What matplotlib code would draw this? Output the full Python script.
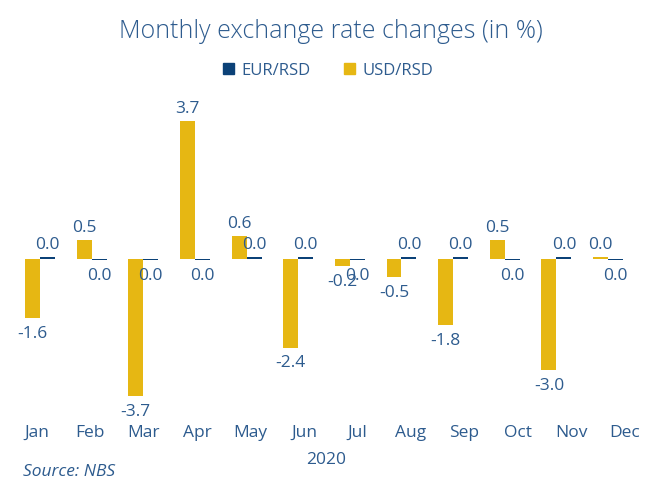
import numpy as np
import matplotlib.pyplot as plt
from matplotlib.patches import Patch

# ── Data ─────────────────────────────────────────────────────
months = ["Jan", "Feb", "Mar", "Apr", "May", "Jun",
          "Jul", "Aug", "Sep", "Oct", "Nov", "Dec"]
usd_rsd = [-1.6, 0.5, -3.7, 3.7, 0.6, -2.4, -0.2, -0.5, -1.8, 0.5, -3.0, 0.03]
eur_rsd = [0.04, -0.04, -0.04, -0.04, 0.04, 0.04, -0.04, 0.04, 0.04, -0.04, 0.04, -0.04]

NAVY = "#0B4177"
GOLD = "#E6B713"
TXT = "#2D5B8E"

plt.rcParams["font.family"] = ["Open Sans", "DejaVu Sans"]

fig = plt.figure(figsize=(6.46, 4.8), dpi=100)
ax = fig.add_axes([0.035, 0.135, 0.955, 0.655])

x = np.arange(len(months))
w = 0.29
b_usd = ax.bar(x - w / 2, usd_rsd, w, color=GOLD, label="USD/RSD")
b_eur = ax.bar(x + w / 2, eur_rsd, w, color=NAVY, label="EUR/RSD")


def fmt(v):
    return f"{round(v, 1) + 0.0:.1f}"


for bars, vals in [(b_usd, usd_rsd), (b_eur, eur_rsd)]:
    for r, v in zip(bars, vals):
        cx = r.get_x() + r.get_width() / 2
        if v >= 0:
            ax.annotate(fmt(v), (cx, v), xytext=(0, 3), textcoords="offset points",
                        ha="center", va="bottom", fontsize=12.5, color=TXT)
        else:
            ax.annotate(fmt(v), (cx, v), xytext=(0, -5.5), textcoords="offset points",
                        ha="center", va="top", fontsize=12.5, color=TXT)

ax.set_ylim(-4.22, 4.25)
ax.set_xlim(-0.337, 11.61)
ax.set_yticks([])
# category labels sit on a slightly wider pitch than the bar groups
ax.set_xticks(x * 1.035 - 0.06)
ax.set_xticklabels(months, fontsize=12.5, color=TXT)
ax.tick_params(axis="x", length=0, pad=7)
for s in ax.spines.values():
    s.set_visible(False)

fig.text(0.512, 0.935, "Monthly exchange rate changes (in %)", ha="center", va="center",
         fontsize=18, color=TXT, fontweight="light")
handles = [Patch(color=NAVY, label="EUR/RSD"), Patch(color=GOLD, label="USD/RSD")]
fig.legend(handles=handles, loc="center", bbox_to_anchor=(0.508, 0.853), ncol=2,
           frameon=False, fontsize=12, handlelength=0.65, handleheight=0.65,
           handletextpad=0.45, columnspacing=2.0, labelcolor=TXT)
fig.text(0.505, 0.042, "2020", ha="center", va="center", fontsize=12.5, color=TXT)
fig.text(0.036, 0.017, "Source: NBS", ha="left", va="center", fontsize=12.5,
         color=TXT, style="italic")

plt.savefig("out.png", dpi=100)
